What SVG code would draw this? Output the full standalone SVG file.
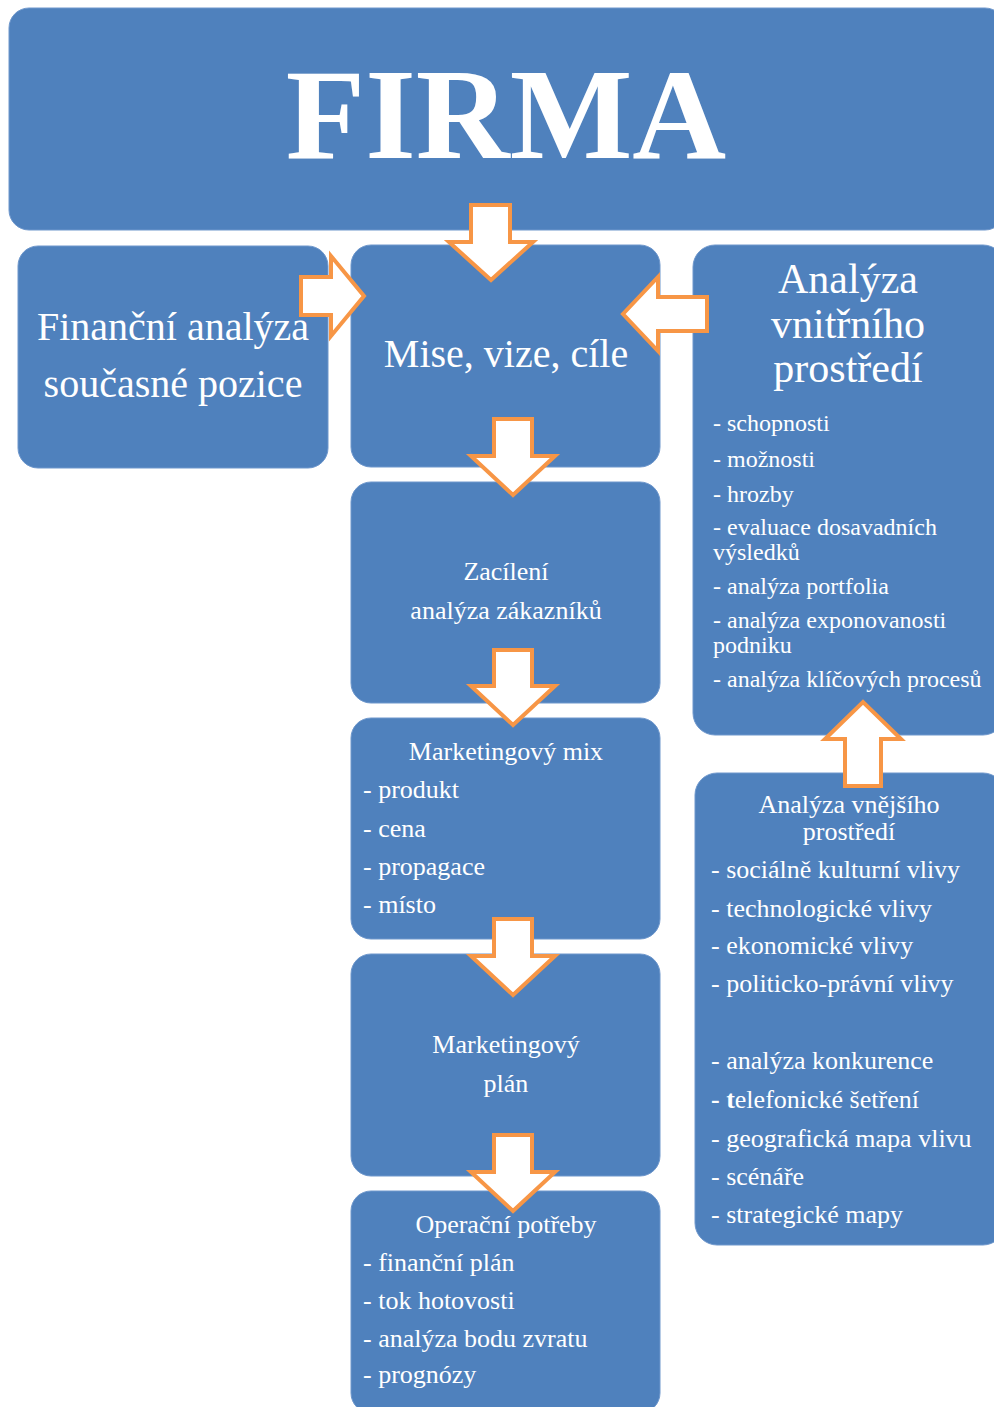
<svg xmlns="http://www.w3.org/2000/svg" width="994" height="1407" viewBox="0 0 994 1407">
<style>
.box{fill:#4F81BD;stroke:#6E97CC;stroke-width:1}
.arr{fill:#FFFFFF;stroke:#F79646;stroke-width:4;stroke-linejoin:miter;stroke-miterlimit:10}
text{font-family:"Liberation Serif","Times New Roman",serif;fill:#FFFFFF}
.c{text-anchor:middle}
.h40{font-size:40px}
.h42{font-size:42px}
.t26{font-size:26px}
.t24{font-size:24px}
</style>
<rect width="994" height="1407" fill="#FFFFFF"/>
<g id="firma">
<rect class="box" x="9" y="8" width="996" height="222" rx="20"/>
<text class="c" x="506" y="158" font-size="130" font-weight="bold">FIRMA</text>
</g>
<g id="financni">
<rect class="box" x="18" y="246" width="310" height="222" rx="20"/>
<text class="c h40" x="173" y="340">Finanční analýza</text>
<text class="c h40" x="173" y="397">současné pozice</text>
</g>
<g id="mise">
<rect class="box" x="351" y="245" width="309" height="222" rx="20"/>
<text class="c h40" x="506" y="367">Mise, vize, cíle</text>
</g>
<g id="vnitrni">
<rect class="box" x="693" y="245" width="312" height="490" rx="22"/>
<text class="c h42" x="848" y="293">Analýza</text>
<text class="c h42" x="848" y="338">vnitřního</text>
<text class="c h42" x="848" y="382">prostředí</text>
<text class="t24" x="713" y="431">- schopnosti</text>
<text class="t24" x="713" y="467">- možnosti</text>
<text class="t24" x="713" y="502">- hrozby</text>
<text class="t24" x="713" y="535">- evaluace dosavadních</text>
<text class="t24" x="713" y="560">výsledků</text>
<text class="t24" x="713" y="594">- analýza portfolia</text>
<text class="t24" x="713" y="628">- analýza exponovanosti</text>
<text class="t24" x="713" y="653">podniku</text>
<text class="t24" x="713" y="687">- analýza klíčových procesů</text>
</g>
<g id="zacileni">
<rect class="box" x="351" y="482" width="309" height="221" rx="20"/>
<text class="c t26" x="506" y="580">Zacílení</text>
<text class="c t26" x="506" y="619">analýza zákazníků</text>
</g>
<g id="mix">
<rect class="box" x="351" y="718" width="309" height="221" rx="20"/>
<text class="c t26" x="506" y="760">Marketingový mix</text>
<text class="t26" x="363" y="798">- produkt</text>
<text class="t26" x="363" y="837">- cena</text>
<text class="t26" x="363" y="875">- propagace</text>
<text class="t26" x="363" y="913">- místo</text>
</g>
<g id="plan">
<rect class="box" x="351" y="954" width="309" height="222" rx="20"/>
<text class="c t26" x="506" y="1053">Marketingový</text>
<text class="c t26" x="506" y="1092">plán</text>
</g>
<g id="operacni">
<rect class="box" x="351" y="1191" width="309" height="222" rx="20"/>
<text class="c t26" x="506" y="1233">Operační potřeby</text>
<text class="t26" x="363" y="1271">- finanční plán</text>
<text class="t26" x="363" y="1309">- tok hotovosti</text>
<text class="t26" x="363" y="1347">- analýza bodu zvratu</text>
<text class="t26" x="363" y="1383">- prognózy</text>
</g>
<g id="vnejsi">
<rect class="box" x="695" y="773" width="310" height="472" rx="22"/>
<text class="c t26" x="849" y="813">Analýza vnějšího</text>
<text class="c t26" x="849" y="840">prostředí</text>
<text class="t26" x="711" y="878">- sociálně kulturní vlivy</text>
<text class="t26" x="711" y="917">- technologické vlivy</text>
<text class="t26" x="711" y="954">- ekonomické vlivy</text>
<text class="t26" x="711" y="992">- politicko-právní vlivy</text>
<text class="t26" x="711" y="1069">- analýza konkurence</text>
<text class="t26" x="711" y="1108"><tspan font-weight="bold">- t</tspan>elefonické šetření</text>
<text class="t26" x="711" y="1147">- geografická mapa vlivu</text>
<text class="t26" x="711" y="1185">- scénáře</text>
<text class="t26" x="711" y="1223">- strategické mapy</text>
</g>
<g id="connectors">
<polygon class="arr" points="471,205 510,205 510,242 533,242 491,280 449,242 471,242"/>
<polygon class="arr" points="301,277 331,277 331,256 364,296 331,336 331,315 301,315"/>
<polygon class="arr" points="707,297 658,297 658,277 623,314 658,351 658,331 707,331"/>
<polygon class="arr" points="494,419 532,419 532,456 555,456 513,495 471,456 494,456"/>
<polygon class="arr" points="494,650 532,650 532,686 555,686 513,725 471,686 494,686"/>
<polygon class="arr" points="494,919 532,919 532,956 555,956 513,995 471,956 494,956"/>
<polygon class="arr" points="494,1135 532,1135 532,1172 555,1172 513,1211 471,1172 494,1172"/>
<polygon class="arr" points="845,786 845,739 825,739 863,702 901,739 881,739 881,786"/>
</g>
</svg>
